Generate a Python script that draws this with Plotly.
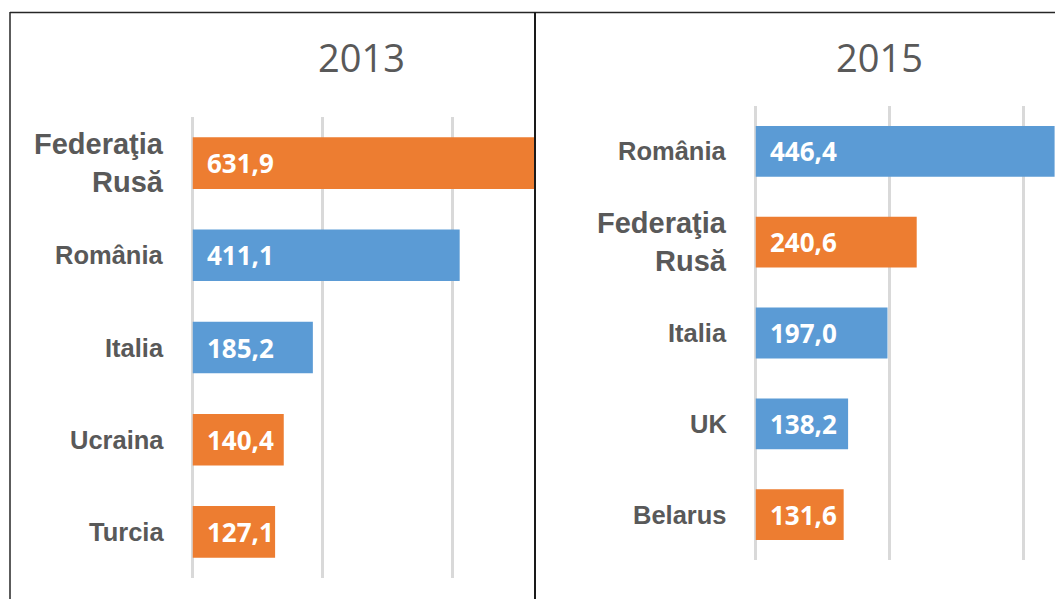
import plotly.graph_objects as go

# Data
cats_2013 = ["Federaţia Rusă", "România", "Italia", "Ucraina", "Turcia"]
vals_2013 = [631.9, 411.1, 185.2, 140.4, 127.1]
cols_2013 = ["#ED7D31", "#5B9BD5", "#5B9BD5", "#ED7D31", "#ED7D31"]

cats_2015 = ["România", "Federaţia Rusă", "Italia", "UK", "Belarus"]
vals_2015 = [446.4, 240.6, 197.0, 138.2, 131.6]
cols_2015 = ["#5B9BD5", "#ED7D31", "#5B9BD5", "#5B9BD5", "#ED7D31"]

titles = ["2013", "2015"]

W, H = 1055, 599
GRID = "#D9D9D9"
LABEL = "#595959"

def fmt(v):
    return f"{v:.1f}".replace(".", ",")

fig = go.Figure()

panels = [
    dict(cats=cats_2013, vals=vals_2013, cols=cols_2013, xa="x", ya="y",
         xdom=[192.5 / W, 535 / W], ydom=[(H - 578) / H, (H - 117) / H],
         xrange=[0, 527], title=titles[0], tx=361),
    dict(cats=cats_2015, vals=vals_2015, cols=cols_2015, xa="x2", ya="y2",
         xdom=[755.5 / W, 1.0], ydom=[(H - 560) / H, (H - 106) / H],
         xrange=[0, 447], title=titles[1], tx=879),
]

annotations = []
for i, p in enumerate(panels):
    fig.add_trace(go.Bar(
        x=p["vals"], y=p["cats"], orientation="h",
        marker=dict(color=p["cols"], line=dict(width=0)),
        width=0.56, xaxis=p["xa"], yaxis=p["ya"], hoverinfo="skip",
        showlegend=False,
    ))
    suffix = "" if i == 0 else "2"
    fig.update_layout(**{
        "xaxis" + suffix: dict(domain=p["xdom"], range=p["xrange"],
                               showgrid=True, gridcolor=GRID, gridwidth=3,
                               dtick=200, zeroline=True, zerolinecolor=GRID,
                               zerolinewidth=3, showticklabels=False,
                               showline=False, fixedrange=True,
                               anchor="y" + suffix),
        "yaxis" + suffix: dict(domain=p["ydom"], autorange="reversed",
                               showticklabels=False, showgrid=False,
                               zeroline=False, showline=False,
                               anchor="x" + suffix),
    })
    # category labels
    for c in p["cats"]:
        big = "Federaţia" in c
        txt = c.replace(" ", "<br>") if big else c
        annotations.append(dict(
            x=p["xdom"][0], xref="paper", y=c, yref=p["ya"],
            text="<b>" + txt + "</b>", showarrow=False,
            xanchor="right", yanchor="middle", align="right", xshift=-27,
            font=dict(family="Liberation Sans", size=29 if big else 25.5, color=LABEL),
        ))
    # value labels
    for c, v in zip(p["cats"], p["vals"]):
        annotations.append(dict(
            x=0, xref=p["xa"], y=c, yref=p["ya"], text="<b>" + fmt(v) + "</b>",
            showarrow=False, xanchor="left", yanchor="middle", xshift=12,
            font=dict(family="Open Sans", size=26, color="white"),
        ))
    # title
    annotations.append(dict(
        x=p["tx"] / W, xref="paper", y=1 - 57 / H, yref="paper",
        text=p["title"], showarrow=False, xanchor="center", yanchor="middle",
        font=dict(family="Open Sans", size=38, color=LABEL),
    ))

shapes = [
    dict(type="line", xref="paper", yref="paper", x0=10 / W, x1=1, y0=1 - 12.5 / H, y1=1 - 12.5 / H,
         line=dict(color="#262626", width=1.5)),
    dict(type="line", xref="paper", yref="paper", x0=10 / W, x1=10 / W, y0=0, y1=1 - 12 / H,
         line=dict(color="#262626", width=1.5)),
    dict(type="line", xref="paper", yref="paper", x0=535 / W, x1=535 / W, y0=0, y1=1 - 12 / H,
         line=dict(color="#1a1a1a", width=2)),
]

fig.update_layout(
    width=W, height=H, margin=dict(l=0, r=0, t=0, b=0),
    paper_bgcolor="white", plot_bgcolor="white",
    annotations=annotations, shapes=shapes, bargap=0.45,
)

fig.write_html("out.html", config={"displayModeBar": False})
